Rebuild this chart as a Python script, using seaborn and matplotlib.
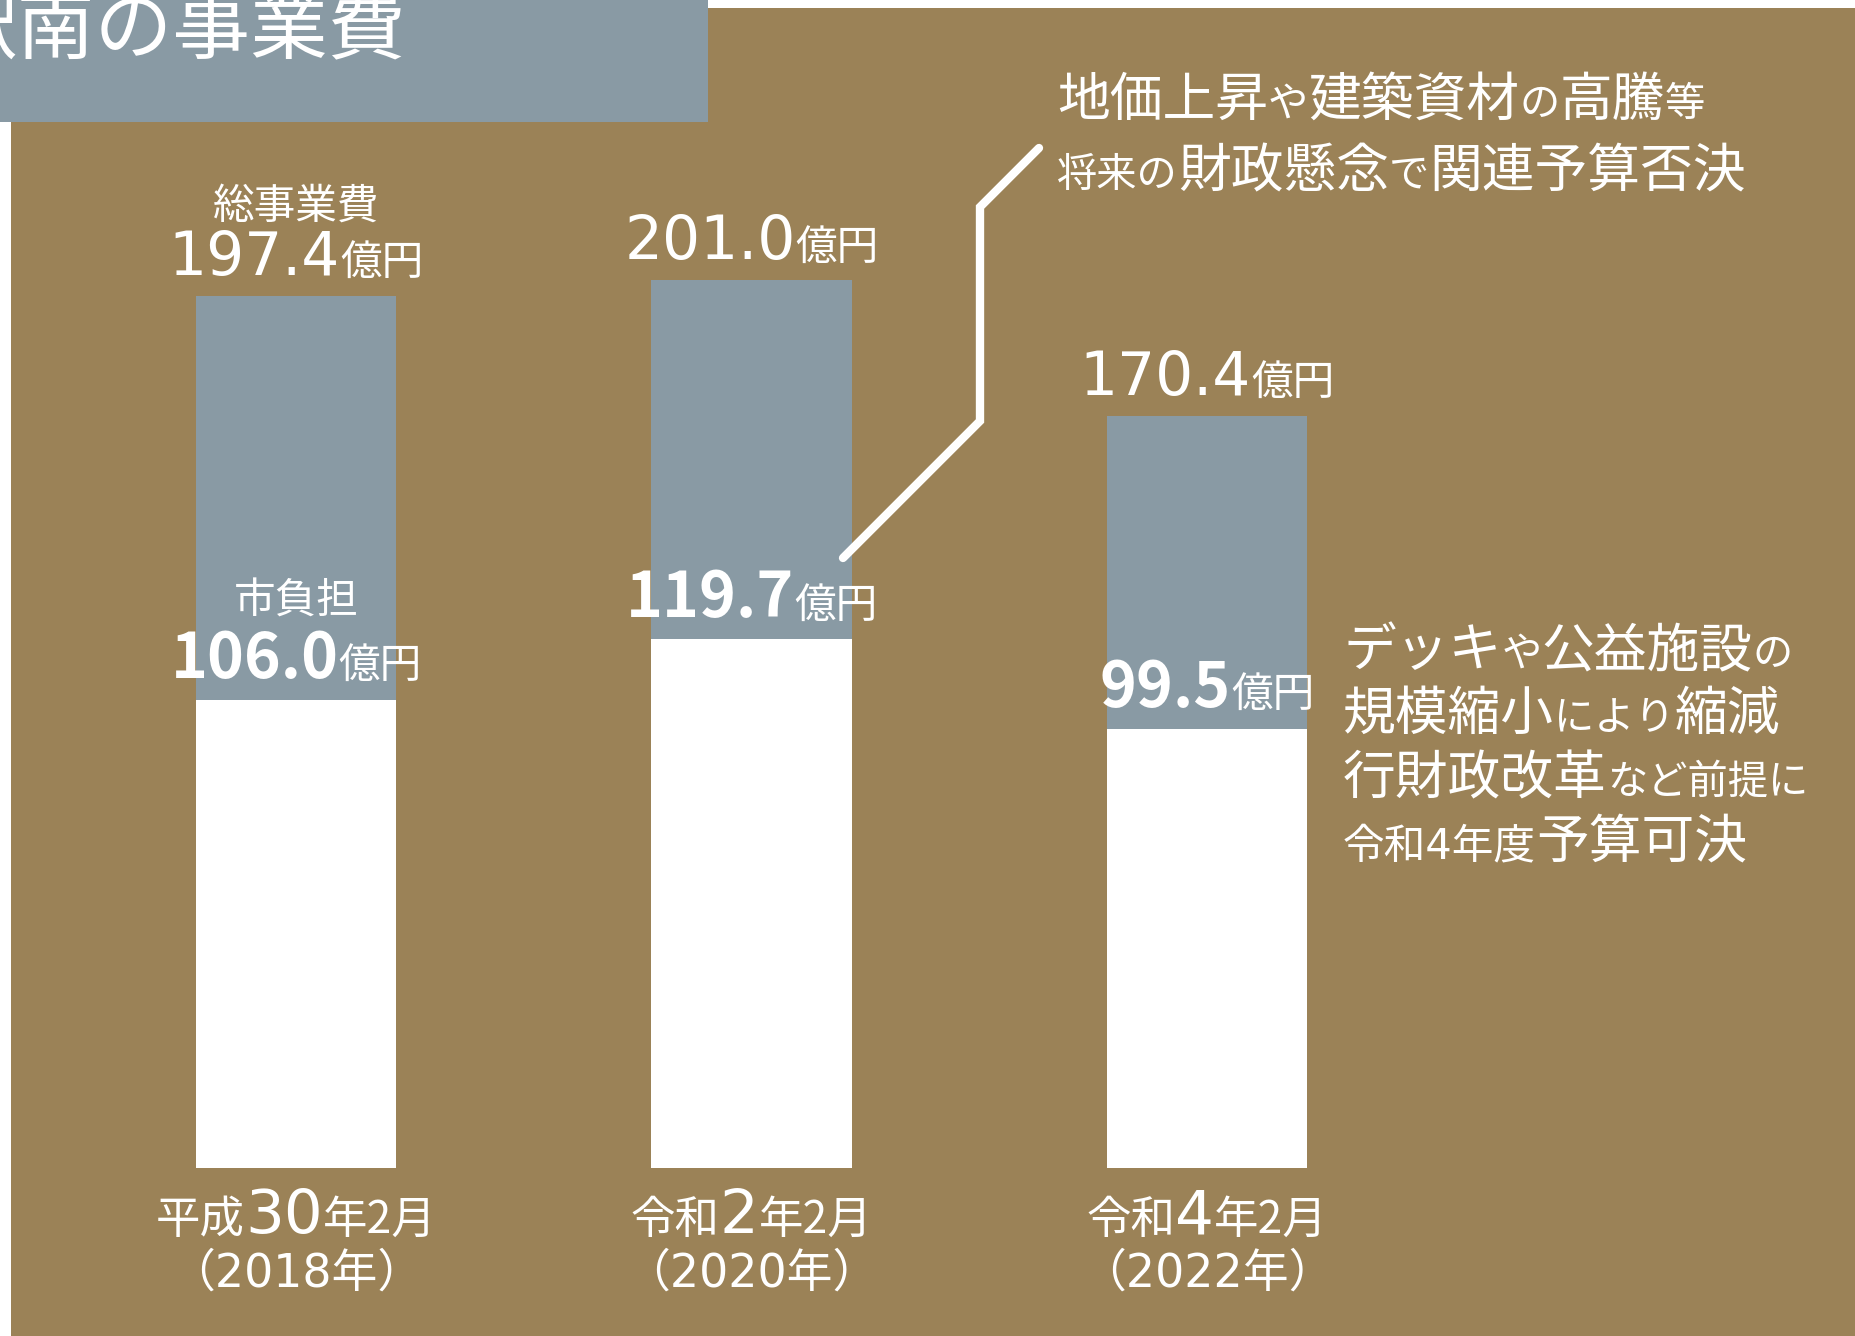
import pandas as pd
import matplotlib
matplotlib.use("Agg")
import matplotlib.pyplot as plt
from matplotlib.patches import Rectangle
from matplotlib.lines import Line2D
from matplotlib.offsetbox import TextArea, HPacker, VPacker, AnnotationBbox
import seaborn as sns

# data
periods = ["平成30年2月", "令和2年2月", "令和4年2月"]
era_prefix = ["平成", "令和", "令和"]
era_num = ["30", "2", "4"]
era_suffix = ["年2月", "年2月", "年2月"]
years = ["（2018年）", "（2020年）", "（2022年）"]
total_cost = [197.4, 201.0, 170.4]
city_burden = [106.0, 119.7, 99.5]

title = "駅南の事業費"
B, S = 38, 29
note_rejected = [
    [("地価上昇", B), ("や", S), ("建築資材", B), ("の", S), ("高騰", B), ("等", S)],
    [("将来の", S), ("財政懸念", B), ("で", S), ("関連予算否決", B)],
]
note_passed = [
    [("デッキ", B), ("や", S), ("公益施設", B), ("の", S)],
    [("規模縮小", B), ("により", S), ("縮減", B)],
    [("行財政改革", B), ("など前提に", S)],
    [("令和4年度", S + 1), ("予算可決", B)],
]

BROWN = "#9B8257"
GRAY = "#899AA4"
FONT = ["Noto Sans CJK JP", "DejaVu Sans"]
NUM_FONT = ["DejaVu Sans", "Noto Sans CJK JP"]

sns.set_theme(style="white")
plt.rcParams["font.family"] = FONT

df = pd.DataFrame({"period": periods, "total": total_cost, "city": city_burden})

W, H = 1856, 1336
fig = plt.figure(figsize=(W / 100, H / 100), dpi=100)
fig.patch.set_facecolor("white")
fig.add_artist(Rectangle((11 / W, 0), 1, 1 - 8 / H, transform=fig.transFigure,
                         facecolor=BROWN, edgecolor="none", zorder=-3))
fig.add_artist(Rectangle((0, 1 - 122 / H), 708 / W, 122 / H, transform=fig.transFigure,
                         facecolor=GRAY, edgecolor="none", zorder=-2))
fig.text(-60 / W, 1 - 52 / H, title, fontsize=56, color="white", va="baseline", ha="left")

ax = fig.add_axes([0, 0, 1, 1])
sns.barplot(data=df, x="period", y="total", color=GRAY, saturation=1,
            width=0.44, linewidth=0, ax=ax)
sns.barplot(data=df, x="period", y="city", color="white", saturation=1,
            width=0.44, linewidth=0, ax=ax)
ax.set_xlim(-296 / 455.5, (W - 296) / 455.5)
ax.set_ylim(-168 / 4.416, 1168 / 4.416)
ax.set_axis_off()


def txt(s, size, family=FONT, weight="normal"):
    return TextArea(s, textprops=dict(color="white", fontsize=size,
                                      family=family, fontweight=weight))


def value_label(x, y, num, dy_px, bold=False):
    if bold:
        num_area = txt(num, 45, weight="bold")
    else:
        num_area = txt(num, 43, family=NUM_FONT)
    box = HPacker(children=[num_area, txt("億円", 30)], align="baseline", pad=0, sep=0)
    ab = AnnotationBbox(box, (x, y), xybox=(0, dy_px * 0.72), xycoords="data",
                        boxcoords="offset points", box_alignment=(0.5, 0),
                        frameon=False, pad=0)
    ax.add_artist(ab)


def rich_row(pieces, x_px, y_px):
    areas = [txt(t, s, family=NUM_FONT) for t, s in pieces]
    box = HPacker(children=areas, align="baseline", pad=0, sep=0)
    ab = AnnotationBbox(box, (x_px, H - y_px), xycoords="figure pixels",
                        box_alignment=(0, 0.5), frameon=False, pad=0)
    fig.add_artist(ab)


for i in range(len(periods)):
    value_label(i, total_cost[i], f"{total_cost[i]:.1f}", 8)
    value_label(i, city_burden[i], f"{city_burden[i]:.1f}", 9, bold=True)

    row1 = HPacker(children=[
        txt(era_prefix[i], 32),
        txt(era_num[i], 44, family=NUM_FONT),
        txt(era_suffix[i], 32),
    ], align="baseline", pad=0, sep=0)
    row2 = txt(years[i], 33, family=NUM_FONT)
    box = VPacker(children=[row1, row2], align="center", pad=0, sep=4)
    ax.add_artist(AnnotationBbox(box, (i, 0), xybox=(0, -19 * 0.72), xycoords="data",
                                 boxcoords="offset points", box_alignment=(0.5, 1),
                                 frameon=False, pad=0))

ax.annotate("総事業費", xy=(0, total_cost[0]), xytext=(0, 89 * 0.72),
            textcoords="offset points", ha="center", va="center",
            fontsize=30, color="white")
ax.annotate("市負担", xy=(0, city_burden[0]), xytext=(0, 98 * 0.72),
            textcoords="offset points", ha="center", va="center",
            fontsize=30, color="white")

# callout line to the rejected budget note
px = [843, 980, 980, 1039]
py = [558, 421, 207, 148]
fig.add_artist(Line2D([x / W for x in px], [1 - y / H for y in py],
                      transform=fig.transFigure, color="white", lw=6,
                      solid_capstyle="round", solid_joinstyle="miter"))

for k, row in enumerate(note_rejected):
    rich_row(row, 1057, 101 + 71 * k)
for k, row in enumerate(note_passed):
    rich_row(row, 1343, 651 + 64 * k)

fig.savefig("out.png", dpi=100)
